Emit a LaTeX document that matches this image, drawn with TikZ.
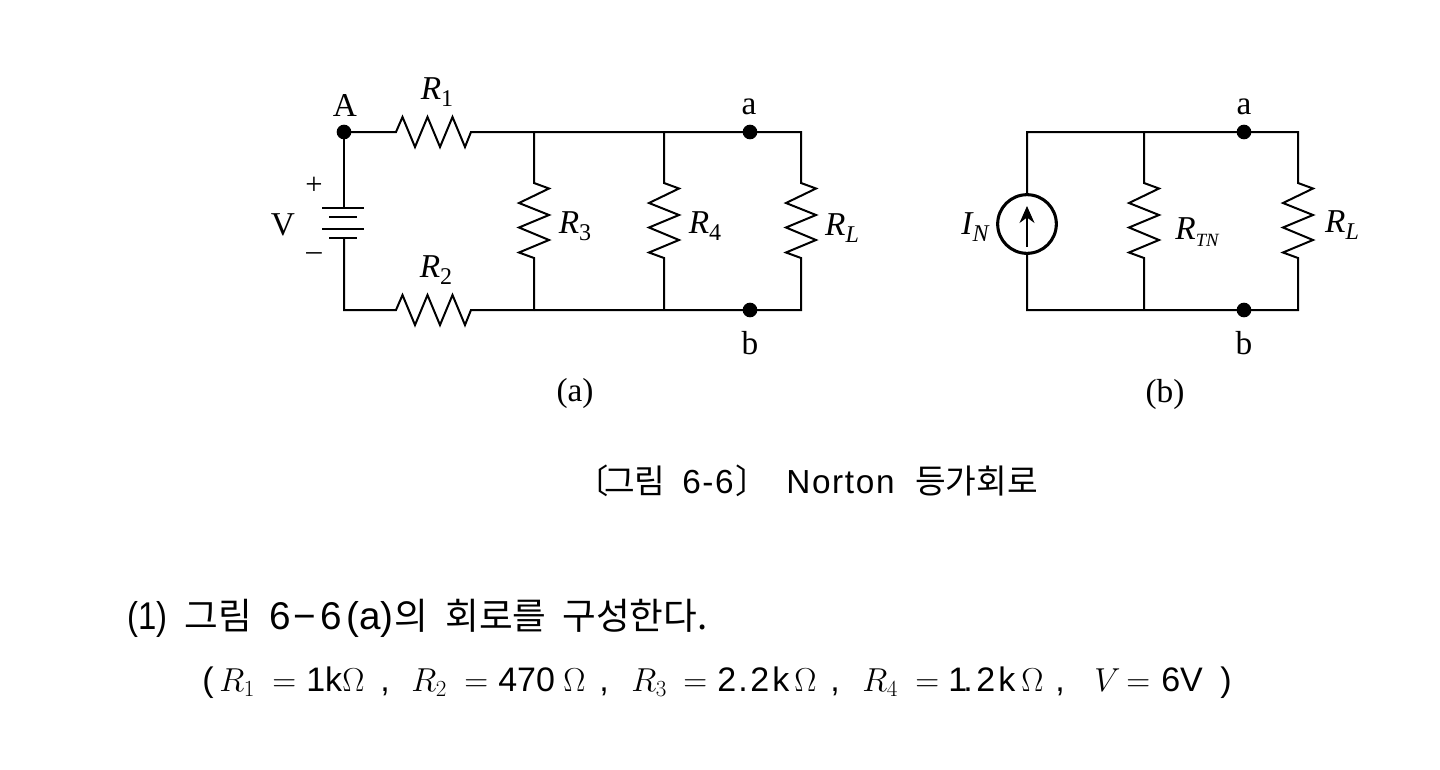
\documentclass[tikz,border=0pt]{standalone}
\usepackage{fontspec}
\usepackage{amsmath}
\usepackage{graphicx}
\setmainfont{Liberation Serif}
\setsansfont{Liberation Sans}
\newfontfamily\krfont{Noto Sans CJK KR}
\newfontfamily\spfont[LetterSpace=5]{Liberation Sans}
\usetikzlibrary{arrows.meta}
\def\hzig{-- ++(6.5,-15) -- ++(12.5,30) -- ++(12.5,-30) -- ++(12.5,30) -- ++(12.5,-30) -- ++(12.5,30) -- ++(6,-15)}
\def\vzig{-- ++(15,5.5) -- ++(-30,14.5) -- ++(30,12) -- ++(-30,12.5) -- ++(30,12.5) -- ++(-30,12.5) -- ++(15,5.5)}
\tikzset{
  wire/.style={line width=1.5pt,line join=miter},
  plate/.style={line width=1.9pt},
  term/.style={circle,fill=black,inner sep=0pt,minimum size=11pt},
  lab/.style={inner sep=0pt,font=\fontsize{25}{27}\selectfont},
  sgn/.style={inner sep=0pt,font=\fontsize{23}{25}\selectfont},
  capt/.style={inner sep=0pt,anchor=base west,font=\fontsize{25}{27}\krfont},
  caps/.style={inner sep=0pt,anchor=base west,font=\fontsize{25}{27}\spfont},
  bod/.style={inner sep=0pt,anchor=base west,font=\fontsize{27.5}{30}\krfont},
  bon/.style={inner sep=0pt,anchor=base west,font=\fontsize{29}{31}\sffamily},
  bos/.style={inner sep=0pt,anchor=base west,font=\fontsize{25.5}{28}\sffamily},
  mth/.style={inner sep=0pt,anchor=base west,font=\fontsize{27}{29}\selectfont},
  eqs/.style={inner sep=0pt,anchor=base west,font=\fontsize{24}{26}\selectfont},
  srcc/.style={circle,draw,line width=2.3pt,minimum size=44pt,inner sep=0pt},
}
\newcommand{\elab}[2]{{\itshape #1}\raisebox{-.22em}{\fontsize{18}{20}\selectfont #2}}
\begin{document}
\begin{tikzpicture}[x=0.75pt,y=-0.75pt]
\useasboundingbox (0,0) rectangle (1440,769);
\fill[white] (0,0) rectangle (1440,769);
% circuit (a)
\node[term] (A) at (344,132) {};
\node[term] (ta) at (750,132) {};
\node[term] (tb) at (750,310) {};
\coordinate (r1l) at (396,132);
\coordinate (r2l) at (396,310);
\coordinate (r3t) at (534,132);
\coordinate (r3b) at (534,310);
\coordinate (r4t) at (664,132);
\coordinate (r4b) at (664,310);
\coordinate (rlt) at (801,132);
\coordinate (rlb) at (801,310);
\coordinate (bl) at (344,310);
\coordinate (bt) at (344,207.5);
\coordinate (bb) at (344,238);
\draw[wire] (A.center) -- (r1l) \hzig -- (r3t) -- (r4t) -- (ta.center) -- (rlt) -- (801,183) \vzig -- (rlb) -- (tb.center) -- (r4b) -- (r3b);
\draw[wire] (bb) -- (bl) -- (r2l) \hzig -- (r3b);
\draw[wire] (r3t) -- (534,183) \vzig -- (r3b);
\draw[wire] (r4t) -- (664,183) \vzig -- (r4b);
\draw[wire] (A.center) -- (bt);
\draw[plate] (322,208) -- (364,208);
\draw[plate] (329,217) -- (357,217);
\draw[plate] (322,229) -- (364,229);
\draw[plate] (329,238) -- (357,238);
\node[lab] (lA) at (345,105) {A};
\node[lab] (lR1) at (437,92) {\elab{R}{1}};
\node[lab] (lV) at (283,225) {V};
\node[sgn] (lp) at (314,186) {+};
\node[sgn] (lm) at (314,257) {–};
\node[lab] (lR2) at (436,270) {\elab{R}{2}};
\node[lab] (lR3) at (575,226) {\elab{R}{3}};
\node[lab] (lR4) at (705,226) {\elab{R}{4}};
\node[lab] (lRL) at (842,228) {\elab{R}{\itshape L}};
\node[lab] (la) at (749,107) {a};
\node[lab] (lb) at (750,343) {b};
\node[lab] (cap1) at (575,393) {(a)};
% circuit (b)
\node[srcc] (src) at (1027,224) {};
\node[term] (tc) at (1244,132) {};
\node[term] (td) at (1244,310) {};
\coordinate (tl) at (1027,132);
\coordinate (bbl) at (1027,310);
\coordinate (tnt) at (1144,132);
\coordinate (tnb) at (1144,310);
\coordinate (tr) at (1298,132);
\coordinate (br) at (1298,310);
\coordinate (arb) at (1027,247);
\coordinate (art) at (1027,206);
\draw[wire] (src.north) -- (tl) -- (tnt) -- (tc.center) -- (tr) -- (1298,183) \vzig -- (br) -- (td.center) -- (tnb) -- (bbl) -- (src.south);
\draw[wire] (tnt) -- (1144,183) \vzig -- (tnb);
\draw[line width=1pt,-{Stealth[length=12.75pt,width=11.25pt]}] (arb) -- (art);
\node[lab] (lIN) at (975,227) {\elab{I}{\itshape N}};
\node[lab] (lRTN) at (1197,232) {\elab{R}{\itshape\fontsize{14}{16}\selectfont TN}};
\node[lab] (lRL2) at (1342,225) {\elab{R}{\itshape L}};
\node[lab] (lc) at (1244,107) {a};
\node[lab] (ld) at (1244,343) {b};
\node[lab] (cap2) at (1165,394) {(b)};
% caption
\node[capt] (c1) at (575,493.5) {〔};
\node[capt] (c2) at (604,493.5) {그림};
\node[caps] (c3) at (682,493.5) {6-6};
\node[capt] (c4) at (735,493.5) {〕};
\node[caps] (c5) at (786,493.5) {Norton};
\node[capt] (c6) at (915,493.5) {등가회로};
% text line 1
\node[bos,font=\fontsize{29}{31}\sffamily] (t1) at (127,629) {\scalebox{0.85}[1]{(1)}};
\node[bod] (t2) at (184,629) {그림};
\node[bon] (t3) at (269,629) {6};
\node[bon] (t3m) at (293,629) {−};
\node[bon] (t3b) at (320,629) {6};
\node[bon] (t4) at (346,629) {(a)};
\node[bod] (t5) at (394,629) {의};
\node[bod] (t6) at (445,629) {회로를};
\node[bod] (t7) at (562,629) {구성한다.};
% text line 2
\node[bos] (p1) at (202,691.5) {(};
\node[mth] (p2) at (219,691.5) {$R_1$};
\node[eqs] (p3) at (272,691.5) {$=$};
\node[bos] (p4) at (306,691.5) {1k};
\node[mth] (p5) at (342,691.5) {$\Omega$};
\node[bos] (p6) at (380,691.5) {,};
\node[mth] (p7) at (411,691.5) {$R_2$};
\node[eqs] (p8) at (464,691.5) {$=$};
\node[bos] (p9) at (498,691.5) {470};
\node[mth] (p10) at (563,691.5) {$\Omega$};
\node[bos] (p11) at (599,691.5) {,};
\node[mth] (p12) at (631,691.5) {$R_3$};
\node[eqs] (p13) at (683,691.5) {$=$};
\node[bos] (p14) at (717,691.5) {2};
\node[bos] (p14a) at (738,691.5) {.};
\node[bos] (p14b) at (750,691.5) {2};
\node[bos] (p14c) at (772,691.5) {k};
\node[mth] (p15) at (794,691.5) {$\Omega$};
\node[bos] (p16) at (830,691.5) {,};
\node[mth] (p17) at (862,691.5) {$R_4$};
\node[eqs] (p18) at (915,691.5) {$=$};
\node[bos] (p19) at (948,691.5) {1};
\node[bos] (p19a) at (963,691.5) {.};
\node[bos] (p19b) at (976,691.5) {2};
\node[bos] (p19c) at (998,691.5) {k};
\node[mth] (p20) at (1021,691.5) {$\Omega$};
\node[bos] (p21) at (1055,691.5) {,};
\node[mth] (p22) at (1094,691.5) {$V$};
\node[eqs] (p23) at (1126,691.5) {$=$};
\node[bos] (p24) at (1161,691.5) {6V};
\node[bos] (p25) at (1220,691.5) {)};
\end{tikzpicture}
\end{document}
